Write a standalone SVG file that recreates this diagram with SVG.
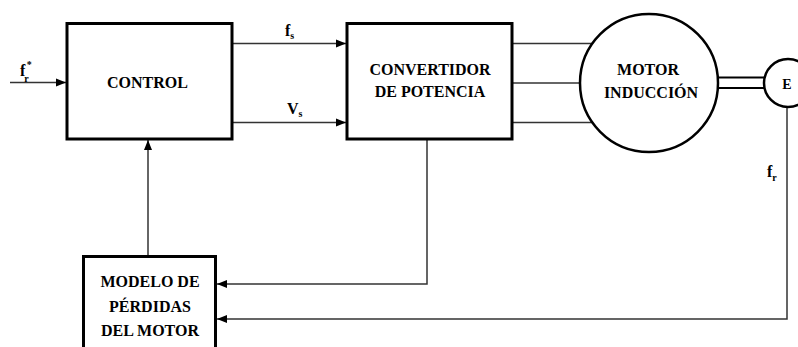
<svg xmlns="http://www.w3.org/2000/svg" width="798" height="347" viewBox="0 0 798 347">
<defs>
<marker id="arr" markerUnits="userSpaceOnUse" markerWidth="10" markerHeight="10" viewBox="0 0 10 10" refX="10" refY="5" orient="auto">
<path d="M0,1 L10,5 L0,9 Z" fill="#000"/>
</marker>
</defs>
<style>
.box{fill:#fff;stroke:#000;stroke-width:3}
.circ{fill:#fff;stroke:#000;stroke-width:2.5}
.ln{fill:none;stroke:#333;stroke-width:1.5}
.t{font-weight:bold;font-size:16px;fill:#000;text-anchor:middle}
.lb{font-weight:bold;font-size:16px;fill:#000}
.sub{font-size:10px}
</style>
<rect width="798" height="347" fill="#fff"/>
<g id="connectors" font-family="'Liberation Serif', 'DejaVu Serif', serif">
<line class="ln" x1="10" y1="82.5" x2="66" y2="82.5" marker-end="url(#arr)"/>
<line class="ln" x1="232" y1="43.5" x2="346" y2="43.5" marker-end="url(#arr)"/>
<line class="ln" x1="232" y1="122.5" x2="346" y2="122.5" marker-end="url(#arr)"/>
<line class="ln" x1="512" y1="43.5" x2="594" y2="43.5"/>
<line class="ln" x1="512" y1="83" x2="581" y2="83"/>
<line class="ln" x1="512" y1="122.5" x2="594" y2="122.5"/>
<line class="ln" x1="717" y1="77.5" x2="764" y2="77.5" style="stroke:#000;stroke-width:2"/>
<line class="ln" x1="717" y1="88" x2="764" y2="88" style="stroke:#000;stroke-width:2"/>
<polyline class="ln" points="427,139 427,284 217,284" marker-end="url(#arr)"/>
<polyline class="ln" points="787,107 787,319 217,319" marker-end="url(#arr)"/>
<line class="ln" x1="148" y1="256" x2="148" y2="140" marker-end="url(#arr)"/>
<text class="lb" x="20" y="76">f<tspan class="sub" dx="-1" dy="6">r</tspan><tspan class="sub" dx="-2" dy="-14">*</tspan></text>
<text class="lb" x="285" y="36">f<tspan class="sub" dy="3">s</tspan></text>
<text class="lb" x="287" y="114">V<tspan class="sub" dy="3">s</tspan></text>
<text class="lb" x="767" y="177">f<tspan class="sub" dy="4">r</tspan></text>
</g>
<g id="control" font-family="'Liberation Serif', 'DejaVu Serif', serif">
<rect class="box" x="67" y="23.5" width="165" height="115.5"/>
<text class="t" x="147.5" y="88">CONTROL</text>
</g>
<g id="convertidor" font-family="'Liberation Serif', 'DejaVu Serif', serif">
<rect class="box" x="347" y="23.5" width="165" height="115.5"/>
<text class="t" x="430" y="75">CONVERTIDOR</text>
<text class="t" x="430" y="97">DE POTENCIA</text>
</g>
<g id="motor" font-family="'Liberation Serif', 'DejaVu Serif', serif">
<circle class="circ" cx="649" cy="83" r="69"/>
<text class="t" x="648" y="75">MOTOR</text>
<text class="t" x="651" y="98">INDUCCIÓN</text>
</g>
<g id="encoder" font-family="'Liberation Serif', 'DejaVu Serif', serif">
<circle class="circ" cx="788" cy="83" r="24"/>
<text class="t" x="787" y="89" style="font-size:14px">E</text>
</g>
<g id="modelo" font-family="'Liberation Serif', 'DejaVu Serif', serif">
<rect class="box" x="83.5" y="256.5" width="132" height="100"/>
<text class="t" x="150" y="287">MODELO DE</text>
<text class="t" x="150" y="312">PÉRDIDAS</text>
<text class="t" x="150" y="336">DEL MOTOR</text>
</g>
</svg>
